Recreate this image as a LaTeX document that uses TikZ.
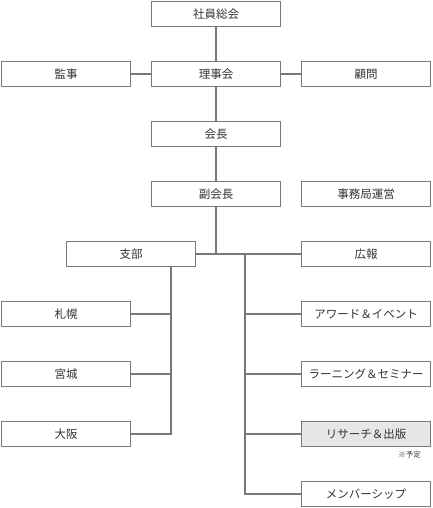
\documentclass[tikz,border=0pt]{standalone}
\usepackage{fontspec}
\setmainfont{Noto Sans CJK JP}
\definecolor{linec}{HTML}{7D7773}
\definecolor{txtc}{HTML}{333333}
\definecolor{grayfill}{HTML}{E6E6E6}
\begin{document}
\begin{tikzpicture}[x=1bp,y=-1bp,
  orgbox/.style={draw=linec, line width=1.3bp, fill=white, minimum width=129bp, minimum height=25.5bp, inner sep=0pt, text=txtc, font=\fontsize{11.5bp}{13bp}\selectfont},
  conn/.style={draw=linec, line width=1.3bp}]
\useasboundingbox (0,0) rectangle (432,508);
\node[orgbox] (shain) at (216,14) {社員総会};
\node[orgbox] (riji) at (216,74) {理事会};
\node[orgbox] (kansa) at (66,74) {監事};
\node[orgbox] (komon) at (366,74) {顧問};
\node[orgbox] (kaicho) at (216,134) {会長};
\node[orgbox] (fuku) at (216,194) {副会長};
\node[orgbox] (jimu) at (366,194) {事務局運営};
\node[orgbox] (shibu) at (131,254) {支部};
\node[orgbox] (koho) at (366,254) {広報};
\node[orgbox] (sapporo) at (66,314) {札幌};
\node[orgbox] (miyagi) at (66,374) {宮城};
\node[orgbox] (osaka) at (66,434) {大阪};
\node[orgbox] (award) at (366,314) {アワード＆イベント};
\node[orgbox] (learn) at (366,374) {ラーニング＆セミナー};
\node[orgbox, fill=grayfill] (research) at (366,434) {リサーチ＆出版};
\node[orgbox] (member) at (366,494) {メンバーシップ};
\node[anchor=east, inner sep=0pt, text=txtc, font=\fontsize{7.5bp}{9bp}\selectfont] (yotei) at (421,455) {※予定};
\coordinate (rt) at (245,254);
\coordinate (lt) at (171,254);
\draw[conn] (shain) -- (riji);
\draw[conn] (kansa) -- (riji);
\draw[conn] (riji) -- (komon);
\draw[conn] (riji) -- (kaicho);
\draw[conn] (kaicho) -- (fuku);
\draw[conn] (fuku.south) -- (fuku.south |- shibu.east);
\draw[conn] (shibu.east) -- (koho.west);
\draw[conn] (rt) -- (rt |- member.west) -- (member.west);
\draw[conn] (rt |- award.west) -- (award.west);
\draw[conn] (rt |- learn.west) -- (learn.west);
\draw[conn] (rt |- research.west) -- (research.west);
\draw[conn] (lt |- shibu.south) -- (lt |- osaka.east) -- (osaka.east);
\draw[conn] (lt |- sapporo.east) -- (sapporo.east);
\draw[conn] (lt |- miyagi.east) -- (miyagi.east);
\end{tikzpicture}
\end{document}
